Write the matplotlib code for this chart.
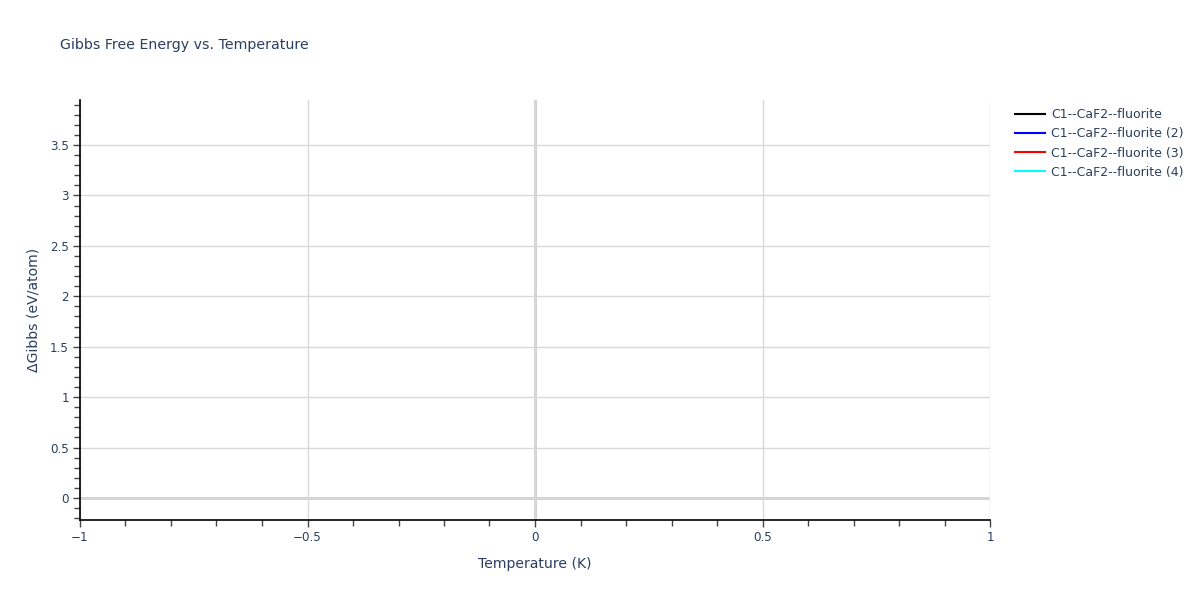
import matplotlib
matplotlib.use("Agg")
import matplotlib.pyplot as plt
from matplotlib.ticker import MultipleLocator

# Data (the reference chart shows no data points; series are empty)
series_names = ["C1--CaF2--fluorite", "C1--CaF2--fluorite (2)",
                "C1--CaF2--fluorite (3)", "C1--CaF2--fluorite (4)"]
series_colors = ["black", "blue", "red", "cyan"]
temperature_1 = []
gibbs_1 = []
temperature_2 = []
gibbs_2 = []
temperature_3 = []
gibbs_3 = []
temperature_4 = []
gibbs_4 = []
x_range = [-1, 1]
y_range = [-0.218, 3.946]

plt.rcParams['font.family'] = ['DejaVu Sans']
txt = '#2a3f5f'
grid = '#d9d9d9'

fig = plt.figure(figsize=(12, 6), dpi=100)
ax = fig.add_axes([80/1200, 1-520/600, 910/1200, 420/600])

xs = [temperature_1, temperature_2, temperature_3, temperature_4]
ys = [gibbs_1, gibbs_2, gibbs_3, gibbs_4]
for x, y, n, c in zip(xs, ys, series_names, series_colors):
    ax.plot(x, y, color=c, lw=1.5, label=n)

ax.set_xlim(*x_range)
ax.set_ylim(*y_range)
ax.xaxis.set_major_locator(MultipleLocator(0.5))
ax.xaxis.set_minor_locator(MultipleLocator(0.1))
ax.yaxis.set_major_locator(MultipleLocator(0.5))
ax.yaxis.set_minor_locator(MultipleLocator(0.1))

ax.grid(True, which='major', color=grid, lw=1)
ax.axhline(0, color='#cccccc', lw=2, zorder=1)
ax.axvline(0, color='#cccccc', lw=2, zorder=1)

for s in ['top', 'right']:
    ax.spines[s].set_visible(False)
for s in ['left', 'bottom']:
    ax.spines[s].set_color('black')
    ax.spines[s].set_linewidth(1.2)

def fmt(v, pos):
    if abs(v) < 1e-9:
        return '0'
    s = ('%g' % v)
    return s.replace('-', '\u2212')
ax.xaxis.set_major_formatter(plt.FuncFormatter(fmt))
ax.yaxis.set_major_formatter(plt.FuncFormatter(fmt))

ax.tick_params(which='major', direction='out', length=5, width=1, color='#444444',
               labelsize=8.6, labelcolor=txt, pad=3)
ax.tick_params(which='minor', direction='out', length=4, width=1, color='#444444')

ax.set_xlabel('Temperature (K)', fontsize=10.1, color=txt, labelpad=9)
ax.set_ylabel('\u0394Gibbs (eV/atom)', fontsize=10.1, color=txt, labelpad=7)

fig.text(60/1200, 1-45/600, 'Gibbs Free Energy vs. Temperature', fontsize=10.2,
         color=txt, va='center', ha='left')

leg = fig.legend(loc='upper left', bbox_to_anchor=(1010/1200, 1-103/600),
                 frameon=False, fontsize=9.0, handlelength=2.4, handletextpad=0.5,
                 labelspacing=0.5, borderaxespad=0)
for t in leg.get_texts():
    t.set_color(txt)

fig.savefig('out.png', dpi=100)
